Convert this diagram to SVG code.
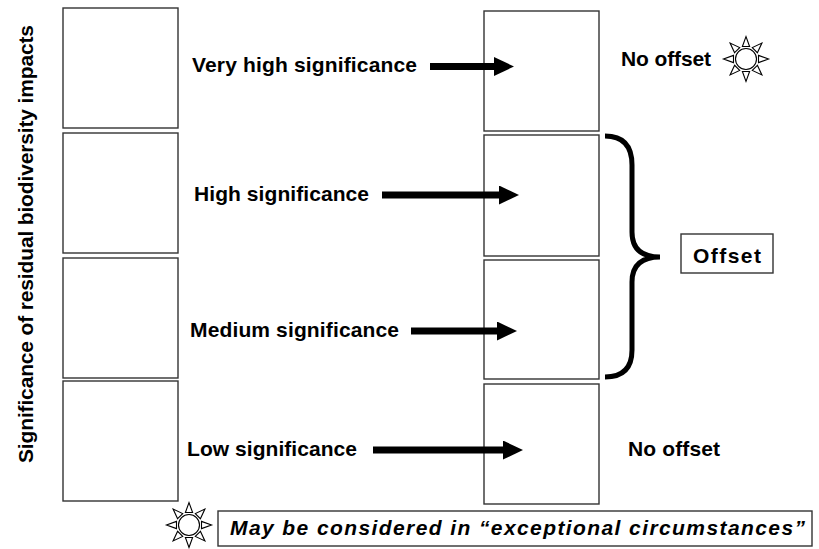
<svg xmlns="http://www.w3.org/2000/svg" width="819" height="549" viewBox="0 0 819 549">
<style>
.box{fill:#fff;stroke:#333;stroke-width:1.4}
.lbl{font-family:"Liberation Sans",Arial,sans-serif;font-weight:bold;font-size:21px;fill:#000}
.arr{stroke:#000;stroke-width:7;fill:none}
</style>
<defs>
<marker id="ah" viewBox="0 0 20 19" markerWidth="20" markerHeight="19" markerUnits="userSpaceOnUse" refX="0" refY="9.5" orient="auto">
<path d="M0,0 L20,9.5 L0,19 z" fill="#000"/>
</marker>
<g id="sunicon" fill="#fff" stroke="#000" stroke-width="1.1">
<circle r="10.5"/>
<polygon points="-3.6,-12.5 3.6,-12.5 0,-22.5"/>
<polygon points="-3.6,-12.5 3.6,-12.5 0,-22.5" transform="rotate(45)"/>
<polygon points="-3.6,-12.5 3.6,-12.5 0,-22.5" transform="rotate(90)"/>
<polygon points="-3.6,-12.5 3.6,-12.5 0,-22.5" transform="rotate(135)"/>
<polygon points="-3.6,-12.5 3.6,-12.5 0,-22.5" transform="rotate(180)"/>
<polygon points="-3.6,-12.5 3.6,-12.5 0,-22.5" transform="rotate(225)"/>
<polygon points="-3.6,-12.5 3.6,-12.5 0,-22.5" transform="rotate(270)"/>
<polygon points="-3.6,-12.5 3.6,-12.5 0,-22.5" transform="rotate(315)"/>
</g>
</defs>
<rect width="819" height="549" fill="#fff"/>

<g id="axis-label">
<text class="lbl" transform="translate(33,244) rotate(-90)" text-anchor="middle" textLength="438">Significance of residual biodiversity impacts</text>
</g>

<g id="left-very-high"><rect class="box" x="63" y="8" width="115" height="120"/></g>
<g id="left-high"><rect class="box" x="63" y="133" width="115" height="120"/></g>
<g id="left-medium"><rect class="box" x="63" y="258" width="115" height="120"/></g>
<g id="left-low"><rect class="box" x="63" y="381" width="115" height="120"/></g>

<g id="right-very-high"><rect class="box" x="484" y="11" width="115" height="120"/></g>
<g id="right-high"><rect class="box" x="484" y="135" width="115" height="121"/></g>
<g id="right-medium"><rect class="box" x="484" y="260" width="115" height="119"/></g>
<g id="right-low"><rect class="box" x="484" y="384" width="115" height="120"/></g>

<g id="label-very-high"><text class="lbl" x="192" y="72" textLength="225">Very high significance</text></g>
<g id="label-high"><text class="lbl" x="194" y="201" textLength="175">High significance</text></g>
<g id="label-medium"><text class="lbl" x="190" y="337" textLength="209">Medium significance</text></g>
<g id="label-low"><text class="lbl" x="187" y="456" textLength="170">Low significance</text></g>

<g id="connectors">
<line class="arr" x1="430" y1="66.5" x2="494" y2="66.5" marker-end="url(#ah)"/>
<line class="arr" x1="382" y1="195" x2="499" y2="195" marker-end="url(#ah)"/>
<line class="arr" x1="411" y1="331" x2="497" y2="331" marker-end="url(#ah)"/>
<line class="arr" x1="373" y1="450" x2="503" y2="450" marker-end="url(#ah)"/>
<path d="M605,136 Q632,136 632,165 L632,232 Q632,257 660,257 Q632,257 632,282 L632,350 Q632,377 605,377" fill="none" stroke="#000" stroke-width="5"/>
</g>

<g id="no-offset-top">
<text class="lbl" x="621" y="66" textLength="90">No offset</text>
<use href="#sunicon" x="746" y="59"/>
</g>

<g id="offset">
<rect class="box" x="681" y="234" width="92" height="39"/>
<text class="lbl" x="727" y="263" text-anchor="middle" textLength="68">Offset</text>
</g>

<g id="no-offset-bottom">
<text class="lbl" x="628" y="456" textLength="92">No offset</text>
</g>

<g id="note">
<use href="#sunicon" x="189" y="525"/>
<rect class="box" x="218" y="511" width="594" height="35"/>
<text class="lbl" x="230" y="535" font-style="italic" font-size="23" textLength="575">May be considered in “exceptional circumstances”</text>
</g>
</svg>
